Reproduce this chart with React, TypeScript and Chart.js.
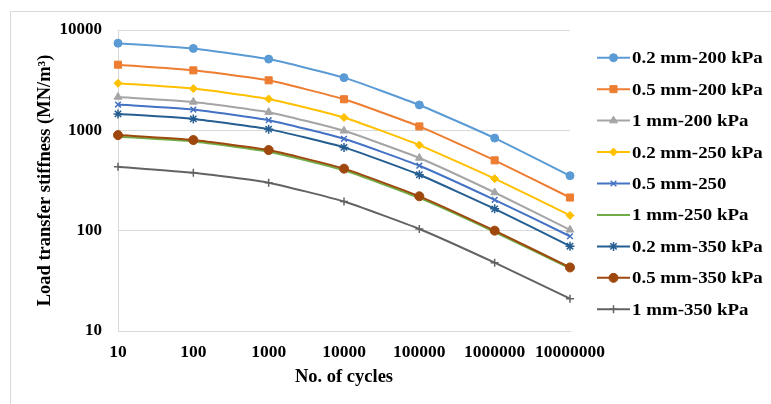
import React, { useEffect, useRef } from 'react';
import { Chart, registerables } from 'chart.js';
import * as helpers from 'chart.js/helpers';

Chart.register(...registerables);

const cycles = ['10', '100', '1000', '10000', '100000', '1000000', '10000000'];
const yTickValues = [10, 100, 1000, 10000];

const s02_200 = [7390, 6550, 5130, 3350, 1790, 837, 353];
const s05_200 = [4510, 3960, 3150, 2040, 1094, 502, 214];
const s1_200 = [2150, 1920, 1517, 989, 530, 240, 102];
const s02_250 = [2943, 2606, 2055, 1343, 713, 330, 142];
const s05_250 = [1807, 1611, 1262, 824, 444, 203, 88];
const s1_250 = [865, 775, 612, 400, 212, 97, 42];
const s02_350 = [1458, 1300, 1028, 676, 361, 165, 70];
const s05_350 = [896, 800, 636, 415, 220, 100, 43];
const s1_350 = [434, 378, 301, 195, 104, 48, 21];

const seriesNames = [
  '0.2 mm-200 kPa',
  '0.5 mm-200 kPa',
  '1 mm-200 kPa',
  '0.2 mm-250 kPa',
  '0.5 mm-250',
  '1 mm-250 kPa',
  '0.2 mm-350 kPa',
  '0.5 mm-350 kPa',
  '1 mm-350 kPa',
];
const seriesValues = [s02_200, s05_200, s1_200, s02_250, s05_250, s1_250, s02_350, s05_350, s1_350];
const seriesColors = ['#5B9BD5', '#ED7D31', '#A5A5A5', '#FFC000', '#4472C4', '#70AD47', '#255E91', '#9E480E', '#636363'];
const seriesMarkers = ['circle', 'rect', 'triangle', 'rectRot', 'crossRot', 'dash', 'star', 'circle', 'cross'];
const markerRadius = [4, 5, 4.5, 4, 4, 3, 4.5, 4.5, 4];
const markerBorder = [1, 1, 1, 1, 1.5, 1.5, 1.5, 1, 1.5];

const FONT = '"Liberation Serif", "Times New Roman", serif';

const frameAndLegend = {
  id: 'frameAndLegend',
  beforeDraw(chart: any) {
    const ctx = chart.ctx;
    ctx.save();
    ctx.fillStyle = '#ffffff';
    ctx.fillRect(0, 0, chart.width, chart.height);
    ctx.strokeStyle = '#d9d9d9';
    ctx.lineWidth = 1;
    ctx.strokeRect(10.5, 11.5, chart.width + 20, chart.height + 20);
    ctx.restore();
  },
  afterDraw(chart: any) {
    const ctx = chart.ctx;
    chart.data.datasets.forEach((ds: any, i: number) => {
      const y = 57.7 + i * 31.45;
      ctx.save();
      ctx.strokeStyle = ds.borderColor;
      ctx.fillStyle = ds.borderColor;
      ctx.lineWidth = 2;
      ctx.beginPath();
      ctx.moveTo(597, y);
      ctx.lineTo(630, y);
      ctx.stroke();
      ctx.lineWidth = ds.pointBorderWidth;
      helpers.drawPoint(ctx, { pointStyle: ds.pointStyle, radius: ds.pointRadius, rotation: 0, borderWidth: ds.pointBorderWidth }, 613.5, y);
      ctx.restore();
      ctx.save();
      ctx.fillStyle = '#000000';
      ctx.font = 'bold 17.5px ' + FONT;
      ctx.textBaseline = 'middle';
      ctx.textAlign = 'left';
      ctx.translate(632, y + 1);
      ctx.scale(1.08, 1);
      ctx.fillText(seriesNames[i], 0, 0);
      ctx.restore();
    });
  },
};

export default function App() {
  const ref = useRef<HTMLCanvasElement | null>(null);
  useEffect(() => {
    if (!ref.current) return;
    const chart = new Chart(ref.current, {
      type: 'line',
      data: {
        labels: cycles,
        datasets: seriesNames.map((name, i) => ({
          label: name,
          data: seriesValues[i],
          borderColor: seriesColors[i],
          backgroundColor: seriesColors[i],
          pointBackgroundColor: seriesColors[i],
          pointBorderColor: seriesColors[i],
          pointStyle: seriesMarkers[i],
          pointRadius: markerRadius[i],
          pointBorderWidth: markerBorder[i],
          borderWidth: 2,
          tension: 0.15,
          fill: false,
          order: -i,
        })),
      },
      plugins: [frameAndLegend],
      options: {
        responsive: false,
        animation: false,
        events: [],
        layout: { padding: { left: 32, top: 30, right: 201, bottom: 0 } },
        plugins: { legend: { display: false }, tooltip: { enabled: false } },
        scales: {
          x: {
            type: 'category',
            offset: false,
            grid: { display: false, drawTicks: false },
            border: { display: true, color: '#d9d9d9', width: 1 },
            ticks: { color: '#000', font: { family: FONT, size: 17.5, weight: 'bold' }, padding: 11, maxRotation: 0, autoSkip: false },
            title: { display: true, text: 'No. of cycles', color: '#000', font: { family: FONT, size: 18.5, weight: 'bold' }, padding: { top: 0, bottom: 16 } },
            afterFit: (s: any) => { s.height = 73; },
          },
          y: {
            type: 'logarithmic',
            min: 10,
            max: 10000,
            afterBuildTicks: (s: any) => { s.ticks = yTickValues.map((v) => ({ value: v })); },
            grid: { color: '#d9d9d9', drawTicks: false },
            border: { display: true, color: '#d9d9d9', width: 1 },
            ticks: { color: '#000', font: { family: FONT, size: 17, weight: 'bold' }, padding: 16, callback: (v: any) => String(v) },
            title: { display: true, text: 'Load transfer stiffness (MN/m³)', color: '#000', font: { family: FONT, size: 18.5, weight: 'bold' }, padding: { top: 2, bottom: 2 } },
            afterFit: (s: any) => { s.width = 86; },
          },
        },
      } as any,
    });
    return () => chart.destroy();
  }, []);
  return (
    <div style={{ position: 'fixed', left: 0, top: 0, width: 771, height: 404, background: '#fff' }}>
      <canvas ref={ref} width={771} height={404} style={{ display: 'block' }} />
    </div>
  );
}
